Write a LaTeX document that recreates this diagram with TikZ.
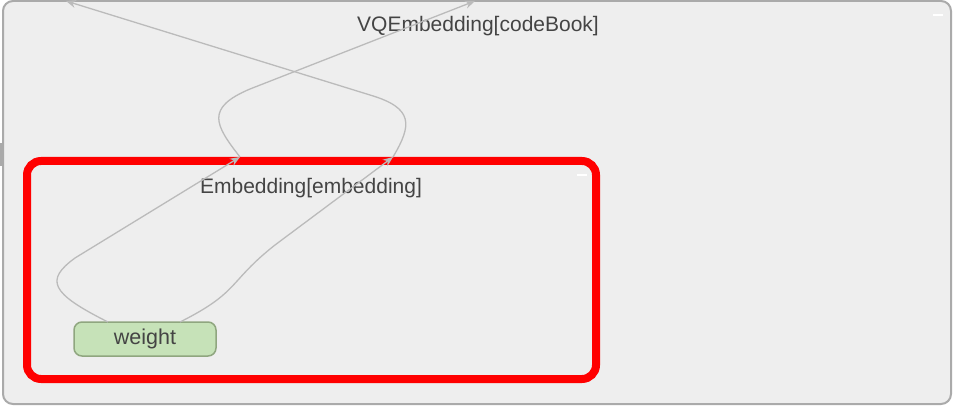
\documentclass[tikz,border=0pt]{standalone}
\usepackage{fontspec}
\setmainfont{Liberation Sans}
\usetikzlibrary{arrows.meta}
\definecolor{bgc}{HTML}{EEEEEE}
\definecolor{outerc}{HTML}{AAAAAA}
\definecolor{edgec}{HTML}{BBBBBB}
\definecolor{txtc}{HTML}{444444}
\definecolor{wfill}{HTML}{C6E2B8}
\definecolor{wdraw}{HTML}{8FA67F}
\tikzset{
  edgeline/.style={draw=edgec, line width=1.3pt, -{Stealth[length=10pt,width=8pt]}},
  lbl/.style={text=txtc, font=\fontsize{21}{24}\selectfont, inner sep=0pt},
  dashmark/.style={draw=white, line width=2pt},
}
\begin{document}
\begin{tikzpicture}[x=1pt,y=-1pt]
\useasboundingbox (0,0) rectangle (953,406);
\fill[white] (0,0) rectangle (953,406);
% outer cluster
\node[draw=outerc, line width=2pt, fill=bgc, rounded corners=10pt, minimum width=948pt, minimum height=403pt, anchor=north west, inner sep=0pt, outer sep=0pt] (vq) at (3,1) {};
\fill[outerc] (0,143) rectangle (3,166);
\node[lbl] (vqlbl) at (478,26) {VQEmbedding[codeBook]};
\draw[dashmark] (933,15) coordinate (d1) -- ++(10,0);
% inner cluster
\node[draw=red, line width=8pt, fill=bgc, rounded corners=14pt, minimum width=569pt, minimum height=218pt, anchor=north west, inner sep=0pt, outer sep=0pt] (emb) at (27,161) {};
\node[lbl] (emblbl) at (311,188) {Embedding[embedding]};
\draw[dashmark] (577,175) coordinate (d2) -- ++(10,0);
% weight node
\node[draw=wdraw, line width=1.5pt, fill=wfill, rounded corners=8pt, minimum width=142pt, minimum height=34pt, inner sep=0pt, outer sep=0pt, text=txtc, font=\fontsize{21.5}{24}\selectfont] (w) at (145,339) {weight};
% crossing points
\coordinate (pa) at (240,157);
\coordinate (pb) at (393,157);
\coordinate (ta) at (475,1);
\coordinate (tb) at (66,1);
% lower edges
\draw[edgeline] ([xshift=-37pt]w.north) .. controls (50,293) and (45,280) .. (75,258) -- (pa);
\draw[edgeline] ([xshift=35pt]w.north) .. controls (240,292) and (228,282) .. (275,245) -- (pb);
% upper edges
\draw[edgeline] (pa) .. controls (215,125) and (205,108) .. (250,89) -- (ta);
\draw[edgeline] (pb) .. controls (412,125) and (414,108) .. (370,95) -- (tb);
\end{tikzpicture}
\end{document}
